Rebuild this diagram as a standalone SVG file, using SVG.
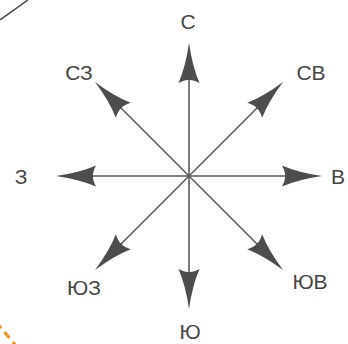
<svg xmlns="http://www.w3.org/2000/svg" xmlns:xlink="http://www.w3.org/1999/xlink" width="348" height="344" viewBox="0 0 348 344">
  <style>
    .lbl { font-family: "Liberation Sans", Arial, sans-serif; font-size: 21px; fill: #454545; text-anchor: middle; }
    .shaft { stroke: #5a5a5a; stroke-width: 1.6; fill: none; }
    .head { fill: #4d4d4d; stroke: none; }
  </style>
  <defs>
    <path id="head" class="head" d="M0,0 Q3.5,24 10.5,40 Q4,36.5 0,37 Q-4,36.5 -10.5,40 Q-3.5,24 0,0 Z"/>
  </defs>
  <rect width="348" height="344" fill="#ffffff"/>
  <line x1="0" y1="20" x2="28" y2="0" stroke="#444" stroke-width="1.5"/>
  <line x1="-4" y1="322" x2="18" y2="348" stroke="#f7931e" stroke-width="3" stroke-dasharray="8 5"/>
  <g id="connectors">
    <line class="shaft" x1="189" y1="176" x2="189" y2="60"/>
    <line class="shaft" x1="189" y1="176" x2="189" y2="292"/>
    <line class="shaft" x1="189" y1="176" x2="305" y2="176"/>
    <line class="shaft" x1="189" y1="176" x2="73" y2="176"/>
    <line class="shaft" x1="189" y1="176" x2="271" y2="94"/>
    <line class="shaft" x1="189" y1="176" x2="271" y2="258"/>
    <line class="shaft" x1="189" y1="176" x2="107" y2="258"/>
    <line class="shaft" x1="189" y1="176" x2="107" y2="94"/>
    <use xlink:href="#head" transform="translate(189,43)"/>
    <use xlink:href="#head" transform="translate(189,309) rotate(180)"/>
    <use xlink:href="#head" transform="translate(322,176) rotate(90)"/>
    <use xlink:href="#head" transform="translate(56,176) rotate(-90)"/>
    <use xlink:href="#head" transform="translate(283,82) rotate(45)"/>
    <use xlink:href="#head" transform="translate(283,270) rotate(135)"/>
    <use xlink:href="#head" transform="translate(95,270) rotate(-135)"/>
    <use xlink:href="#head" transform="translate(95,82) rotate(-45)"/>
  </g>
  <g id="n"><text class="lbl" x="188" y="29">С</text></g>
  <g id="ne"><text class="lbl" x="311" y="80">СВ</text></g>
  <g id="e"><text class="lbl" x="338" y="184">В</text></g>
  <g id="se"><text class="lbl" x="310" y="289">ЮВ</text></g>
  <g id="s"><text class="lbl" x="190" y="339">Ю</text></g>
  <g id="sw"><text class="lbl" x="84" y="295">ЮЗ</text></g>
  <g id="w"><text class="lbl" x="21" y="184">З</text></g>
  <g id="nw"><text class="lbl" x="79" y="80">СЗ</text></g>
</svg>
